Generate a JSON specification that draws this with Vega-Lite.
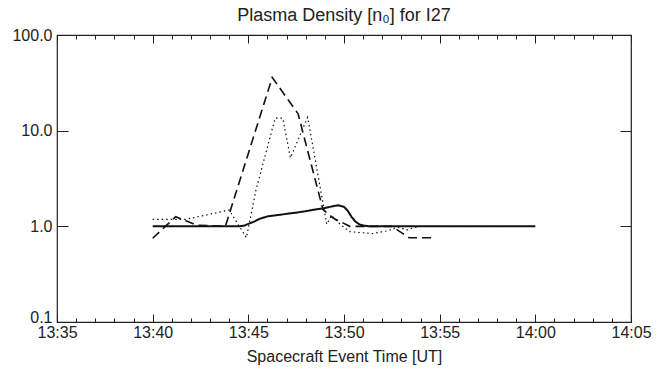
{
  "$schema": "https://vega.github.io/schema/vega-lite/v6.json",
  "width": 574,
  "height": 287,
  "autosize": "none",
  "padding": {"left": 57, "top": 35, "right": 34, "bottom": 51},
  "background": "white",
  "config": {
    "view": {"stroke": "#222", "strokeWidth": 1.2},
    "font": "Liberation Sans",
    "axis": {"grid": false, "labelFont": "Liberation Sans", "titleFont": "Liberation Sans", "labelColor": "#222", "titleColor": "#222", "tickColor": "#222", "domain": false, "titleFontWeight": "normal"}
  },
  "title": {"text": "Plasma Density [n₀] for I27", "fontSize": 18, "font": "Liberation Sans", "fontWeight": "normal", "color": "#222", "anchor": "middle", "offset": 2},
  "data": {"values": [
    {"t": "2000-01-01T13:40:00Z", "v": 1.0, "s": "solid"},
    {"t": "2000-01-01T13:44:30Z", "v": 1.0, "s": "solid"},
    {"t": "2000-01-01T13:44:48Z", "v": 1.02, "s": "solid"},
    {"t": "2000-01-01T13:45:00Z", "v": 1.06, "s": "solid"},
    {"t": "2000-01-01T13:45:18Z", "v": 1.12, "s": "solid"},
    {"t": "2000-01-01T13:45:36Z", "v": 1.2, "s": "solid"},
    {"t": "2000-01-01T13:46:00Z", "v": 1.27, "s": "solid"},
    {"t": "2000-01-01T13:46:30Z", "v": 1.31, "s": "solid"},
    {"t": "2000-01-01T13:47:00Z", "v": 1.35, "s": "solid"},
    {"t": "2000-01-01T13:47:30Z", "v": 1.39, "s": "solid"},
    {"t": "2000-01-01T13:48:00Z", "v": 1.44, "s": "solid"},
    {"t": "2000-01-01T13:48:30Z", "v": 1.5, "s": "solid"},
    {"t": "2000-01-01T13:49:00Z", "v": 1.55, "s": "solid"},
    {"t": "2000-01-01T13:49:24Z", "v": 1.62, "s": "solid"},
    {"t": "2000-01-01T13:49:42Z", "v": 1.66, "s": "solid"},
    {"t": "2000-01-01T13:50:00Z", "v": 1.6, "s": "solid"},
    {"t": "2000-01-01T13:50:12Z", "v": 1.45, "s": "solid"},
    {"t": "2000-01-01T13:50:24Z", "v": 1.25, "s": "solid"},
    {"t": "2000-01-01T13:50:36Z", "v": 1.12, "s": "solid"},
    {"t": "2000-01-01T13:50:48Z", "v": 1.05, "s": "solid"},
    {"t": "2000-01-01T13:51:00Z", "v": 1.02, "s": "solid"},
    {"t": "2000-01-01T13:51:18Z", "v": 1.0, "s": "solid"},
    {"t": "2000-01-01T14:00:00Z", "v": 1.0, "s": "solid"},
    {"t": "2000-01-01T13:40:00Z", "v": 0.75, "s": "dashed"},
    {"t": "2000-01-01T13:41:12Z", "v": 1.26, "s": "dashed"},
    {"t": "2000-01-01T13:42:18Z", "v": 1.03, "s": "dashed"},
    {"t": "2000-01-01T13:43:48Z", "v": 1.0, "s": "dashed"},
    {"t": "2000-01-01T13:46:15Z", "v": 36, "s": "dashed"},
    {"t": "2000-01-01T13:47:36Z", "v": 15, "s": "dashed"},
    {"t": "2000-01-01T13:48:54Z", "v": 1.5, "s": "dashed"},
    {"t": "2000-01-01T13:49:26Z", "v": 1.22, "s": "dashed"},
    {"t": "2000-01-01T13:50:18Z", "v": 1.0, "s": "dashed"},
    {"t": "2000-01-01T13:52:30Z", "v": 1.0, "s": "dashed"},
    {"t": "2000-01-01T13:53:24Z", "v": 0.76, "s": "dashed"},
    {"t": "2000-01-01T13:54:48Z", "v": 0.76, "s": "dashed"},
    {"t": "2000-01-01T13:40:00Z", "v": 1.18, "s": "dotted"},
    {"t": "2000-01-01T13:41:42Z", "v": 1.18, "s": "dotted"},
    {"t": "2000-01-01T13:44:00Z", "v": 1.48, "s": "dotted"},
    {"t": "2000-01-01T13:44:54Z", "v": 0.76, "s": "dotted"},
    {"t": "2000-01-01T13:45:24Z", "v": 2.4, "s": "dotted"},
    {"t": "2000-01-01T13:46:24Z", "v": 13.5, "s": "dotted"},
    {"t": "2000-01-01T13:46:48Z", "v": 13.5, "s": "dotted"},
    {"t": "2000-01-01T13:47:12Z", "v": 5.2, "s": "dotted"},
    {"t": "2000-01-01T13:48:06Z", "v": 13.8, "s": "dotted"},
    {"t": "2000-01-01T13:49:06Z", "v": 1.05, "s": "dotted"},
    {"t": "2000-01-01T13:49:21Z", "v": 1.3, "s": "dotted"},
    {"t": "2000-01-01T13:49:48Z", "v": 1.05, "s": "dotted"},
    {"t": "2000-01-01T13:50:18Z", "v": 0.88, "s": "dotted"},
    {"t": "2000-01-01T13:51:30Z", "v": 0.84, "s": "dotted"},
    {"t": "2000-01-01T13:52:18Z", "v": 0.9, "s": "dotted"},
    {"t": "2000-01-01T13:52:48Z", "v": 0.98, "s": "dotted"},
    {"t": "2000-01-01T13:53:18Z", "v": 0.92, "s": "dotted"},
    {"t": "2000-01-01T13:53:54Z", "v": 1.0, "s": "dotted"},
    {"t": "2000-01-01T13:55:00Z", "v": 1.0, "s": "dotted"}
  ]},
  "resolve": {"axis": {"x": "independent", "y": "independent"}},
  "layer": [
    {
      "mark": {"type": "line", "color": "#111", "clip": true},
      "encoding": {
        "x": {"field": "t", "type": "temporal",
          "scale": {"type": "utc", "domain": [946733700000, 946735500000], "nice": false},
          "axis": {"orient": "bottom", "title": "Spacecraft Event Time [UT]", "titleFontSize": 16, "titlePadding": 8, "labelFontSize": 16, "format": "%H:%M", "values": [946733700000, 946734000000, 946734300000, 946734600000, 946734900000, 946735200000, 946735500000], "tickSize": -8, "tickWidth": 1, "labelPadding": 10, "labelOverlap": false, "labelFlush": false}},
        "y": {"field": "v", "type": "quantitative",
          "scale": {"type": "log", "domain": [0.1, 100], "nice": false},
          "axis": {"orient": "left", "title": null, "values": [0.1, 1, 10, 100], "format": ".1f", "labelFontSize": 16, "tickSize": -11, "tickWidth": 1, "labelPadding": 16, "labelOverlap": false, "labelFlush": false,
            "labelBaseline": {"condition": {"test": "datum.value < 0.5", "value": "alphabetic"}, "value": "middle"}}},
        "strokeDash": {"field": "s", "type": "nominal", "legend": null, "scale": {"domain": ["solid", "dashed", "dotted"], "range": [[1, 0], [9, 5], [1.5, 3]]}},
        "strokeWidth": {"field": "s", "type": "nominal", "legend": null, "scale": {"domain": ["solid", "dashed", "dotted"], "range": [2, 1.2, 1.4]}}
      }
    },
    {
      "mark": {"type": "point", "opacity": 0},
      "encoding": {
        "x": {"field": "t", "type": "temporal",
          "axis": {"orient": "bottom", "title": null, "labels": false, "values": [946733700000, 946733760000, 946733820000, 946733880000, 946733940000, 946734000000, 946734060000, 946734120000, 946734180000, 946734240000, 946734300000, 946734360000, 946734420000, 946734480000, 946734540000, 946734600000, 946734660000, 946734720000, 946734780000, 946734840000, 946734900000, 946734960000, 946735020000, 946735080000, 946735140000, 946735200000, 946735260000, 946735320000, 946735380000, 946735440000, 946735500000], "tickSize": -4, "tickWidth": 1}},
        "y": {"field": "v", "type": "quantitative",
          "axis": {"orient": "right", "title": null, "labels": false, "values": [0.1, 1, 10, 100], "tickSize": -11, "tickWidth": 1}}
      }
    },
    {
      "mark": {"type": "point", "opacity": 0},
      "encoding": {
        "x": {"field": "t", "type": "temporal",
          "axis": {"orient": "top", "title": null, "labels": false, "values": [946733700000, 946734000000, 946734300000, 946734600000, 946734900000, 946735200000, 946735500000], "tickSize": -8, "tickWidth": 1}},
        "y": {"field": "v", "type": "quantitative", "axis": null}
      }
    },
    {
      "mark": {"type": "point", "opacity": 0},
      "encoding": {
        "x": {"field": "t", "type": "temporal",
          "axis": {"orient": "top", "title": null, "labels": false, "values": [946733700000, 946733760000, 946733820000, 946733880000, 946733940000, 946734000000, 946734060000, 946734120000, 946734180000, 946734240000, 946734300000, 946734360000, 946734420000, 946734480000, 946734540000, 946734600000, 946734660000, 946734720000, 946734780000, 946734840000, 946734900000, 946734960000, 946735020000, 946735080000, 946735140000, 946735200000, 946735260000, 946735320000, 946735380000, 946735440000, 946735500000], "tickSize": -4, "tickWidth": 1}},
        "y": {"field": "v", "type": "quantitative", "axis": null}
      }
    }
  ]
}
